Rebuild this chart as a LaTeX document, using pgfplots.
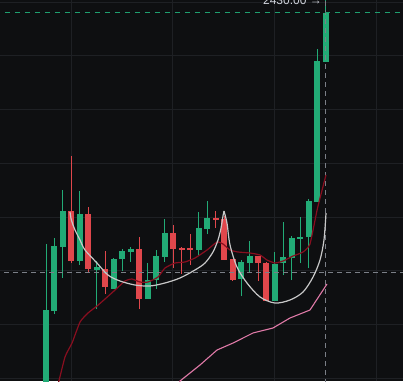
\documentclass[border=0pt]{standalone}
\usepackage{pgfplots}
\usepackage{pgfplotstable}
\usepackage{fontspec}
\setmainfont{Liberation Sans}
\pgfplotsset{compat=1.18}
\definecolor{bgc}{HTML}{0E0F11}
\definecolor{gridc}{HTML}{1E2024}
\definecolor{cgreen}{HTML}{22AB76}
\definecolor{cred}{HTML}{E0474C}
\definecolor{mared}{HTML}{880E1F}
\definecolor{pinkc}{HTML}{E07AA8}
\definecolor{arcc}{HTML}{C8C8C8}
\definecolor{crossc}{HTML}{7B7F87}
\definecolor{pricec}{HTML}{1F9F6F}
\definecolor{txtc}{HTML}{D1D4DC}

\pgfplotstableread{
i o h l c
0 1672 1999.9 1672 1877.0
1 1875.1 2011.0 1869.5 1996.1
2 1994.3 2100.4 1936.6 2061.3
4 1968.2 2098.6 1960.8 2055.7
6 1951.5 1968.2 1878.8 1957.0
8 1916.1 1973.8 1916.1 1971.9
9 1971.9 1990.6 1949.6 1986.8
10 1985.0 1994.3 1966.4 1990.6
12 1897.5 1964.5 1897.5 1932.8
13 1932.8 1988.7 1916.1 1977.5
14 1975.7 2046.4 1966.4 2020.4
18 1988.7 2059.5 1977.5 2029.7
19 2027.8 2079.9 2018.5 2048.3
23 1934.7 1970.1 1903.0 1966.4
24 1964.5 2005.5 1945.9 1977.5
27 1893.7 1985.0 1893.7 1962.6
28 1964.5 2040.8 1942.1 1975.7
29 1973.8 2014.8 1932.8 2011.0
30 2009.2 2050.1 1964.5 2012.9
31 2012.9 2083.7 1955.2 2079.9
32 2078.1 2363.0 2078.1 2340.6
33 2338.8 2460.0 2338.8 2430.0
}\greencandles

\pgfplotstableread{
i o h l c
3 2061.3 2163.7 1964.5 1968.2
5 2055.7 2068.8 1945.9 1953.3
7 1953.3 1986.8 1906.8 1919.8
11 1990.6 2012.9 1878.8 1897.5
15 2020.4 2035.2 1955.2 1990.6
16 1992.4 1994.3 1944.0 1988.7
17 1992.4 2018.5 1960.8 1988.7
20 2048.3 2061.3 2029.7 2044.6
21 2046.4 2052.0 1970.1 1970.1
22 1971.9 1971.9 1931.0 1932.8
25 1977.5 1977.5 1931.0 1964.5
26 1964.5 1966.4 1893.7 1893.7
}\redcandles

\begin{document}
\begin{tikzpicture}
\begin{axis}[
  at={(0,0)}, anchor=south west,
  scale only axis, width=403pt, height=381pt,
  xmin=-5.425, xmax=42.10, ymin=1744.8, ymax=2454.2,
  axis line style={draw=none}, tick style={draw=none},
  xtick={3.03,14.89,26.92,39.0},
  ytick={1750,1850,1950,2050,2150,2250,2350,2450},
  xticklabels={}, yticklabels={},
  grid=major, grid style={color=gridc, line width=1pt},
  axis background/.style={fill=bgc},
]
% wicks
\addplot[draw=none, mark=none, forget plot,
  error bars/.cd, y dir=plus, y explicit, error mark=none,
  error bar style={draw=cgreen, solid, line width=1pt}]
  table[x=i, y=l, y error expr=\thisrow{h}-\thisrow{l}] {\greencandles};
\addplot[draw=none, mark=none, forget plot,
  error bars/.cd, y dir=plus, y explicit, error mark=none,
  error bar style={draw=cred, solid, line width=1pt}]
  table[x=i, y=l, y error expr=\thisrow{h}-\thisrow{l}] {\redcandles};
% bodies
\addplot[draw=none, mark=none, forget plot,
  error bars/.cd, y dir=plus, y explicit, error mark=none,
  error bar style={draw=cgreen, solid, line width=6pt, line cap=butt}]
  table[x=i, y expr={min(\thisrow{o},\thisrow{c})}, y error expr={max(abs(\thisrow{c}-\thisrow{o}),3.7)}] {\greencandles};
\addplot[draw=none, mark=none, forget plot,
  error bars/.cd, y dir=plus, y explicit, error mark=none,
  error bar style={draw=cred, solid, line width=6pt, line cap=butt}]
  table[x=i, y expr={min(\thisrow{o},\thisrow{c})}, y error expr={max(abs(\thisrow{c}-\thisrow{o}),3.7)}] {\redcandles};

% crosshair and price line
\addplot[crossc, line width=1pt, dash pattern=on 5pt off 4pt] coordinates {(-6,1946.8) (43,1946.8)};
\addplot[crossc, line width=1pt, dash pattern=on 5pt off 4pt] coordinates {(33,1740) (33,2460)};
\addplot[pricec, line width=1pt, dash pattern=on 5pt off 5pt] coordinates {(-6,2430) (43,2430)};

% fast MA
\addplot[mared, line width=1.2pt, smooth, tension=0.3] coordinates {
(1.18,1722.4) (2.24,1789.5) (3.07,1815.5) (4.01,1854.6) (4.95,1871.4) (6.01,1884.4)
(6.96,1897.5) (8.14,1914.2) (9.32,1931.0) (10.14,1934.7) (11.08,1929.1) (12.03,1929.1)
(13.21,1938.4) (14.03,1955.2) (15.21,1964.5) (16.39,1966.4) (17.57,1973.8) (18.99,1988.7)
(20.17,2003.6) (20.87,1999.9) (21.70,1988.7) (22.64,1985.0) (24.06,1983.1) (25.24,1979.4)
(26.06,1970.1) (27.00,1964.5) (27.95,1968.2) (29.13,1977.5) (30.31,1985.0) (31.13,1999.9)
(32.02,2066.9) (33.02,2128.4)};
% slow MA
\addplot[pinkc, line width=1.1pt] coordinates {
(15.21,1718.7) (15.80,1744.8) (18.16,1774.6) (20.17,1802.5) (22.05,1815.5) (24.41,1834.2)
(26.77,1843.5) (28.77,1862.1) (31.13,1877.0) (33.14,1925.4)};
% arcs
\addplot[arcc, line width=1.2pt, smooth, tension=0.5] coordinates {
(2.83,2059.5) (2.99,2044.6) (3.42,2026.0) (4.01,2007.3) (4.60,1988.7) (6.01,1964.5)
(7.31,1942.1) (8.73,1931.0) (10.50,1923.5) (12.26,1921.7) (14.03,1927.3) (15.80,1936.6)
(17.57,1951.5) (18.75,1964.5) (19.69,1985.0) (20.28,2007.3) (20.64,2029.7) (20.87,2052.0)
(20.99,2061.3)};
\addplot[arcc, line width=1.2pt, smooth, tension=0.5] coordinates {
(20.99,2061.3) (21.34,2039.0) (21.70,1998.0) (22.52,1957.0) (23.70,1927.3) (25.24,1901.2)
(27.00,1890.0) (28.77,1895.6) (30.31,1910.5) (31.49,1938.4) (32.31,1970.1) (32.78,2007.3)
(33.02,2057.6)};
\node[anchor=base east, text=txtc, inner sep=0pt, font=\fontsize{12}{14}\selectfont]
  at (axis cs:32.55,2444.9) {2430.00 →};
\end{axis}
\pgfresetboundingbox
\useasboundingbox (0,0) rectangle (403pt,381pt);
\end{tikzpicture}
\end{document}
